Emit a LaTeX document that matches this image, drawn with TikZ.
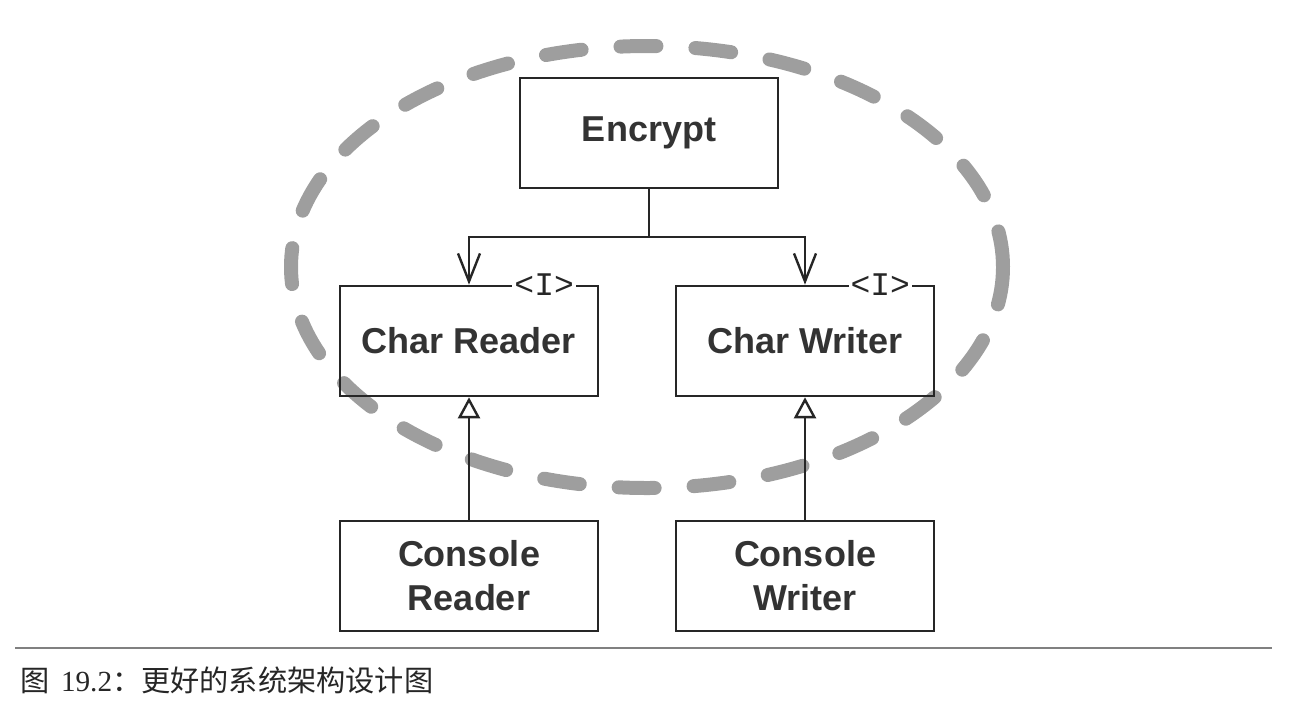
\documentclass[tikz,border=0pt]{standalone}
\usepackage{fontspec}
\usepackage{tikz}
\setmainfont{Liberation Sans}
\newfontfamily\cjkfont{Noto Sans CJK SC}
\newfontfamily\capnumfont{Liberation Serif}
\newfontfamily\ifacefont{Liberation Mono}
\newcommand{\defaultboxwidth}{129pt}
\newcommand{\boxwidth}{\defaultboxwidth}
\newcommand{\boxheight}{55pt}
\usetikzlibrary{arrows.meta}
\colorlet{inkcolor}{black!85}
\tikzstyle{classbox}=[draw=inkcolor, text=black!80, line width=1.3pt, inner sep=0, minimum width=\boxwidth,
                      minimum height=\boxheight, align=center, font=\fontsize{18}{22}\selectfont\bfseries]
\tikzstyle{iface}=[fill=white, text=inkcolor, inner sep=1pt, font=\fontsize{16.5}{16}\selectfont\ifacefont]
\tikzstyle{uses}=[draw=inkcolor, line width=1.2pt, -{Straight Barb[length=14pt, width=11pt]}]
\tikzstyle{implements}=[draw=inkcolor, line width=1.2pt, -{Triangle[fill=white, length=10.5pt, width=11pt]}]
\tikzstyle{boundary}=[draw=black!38, line width=7pt, line cap=round, dash pattern=on 18pt off 19.5pt]
\tikzstyle{captionrule}=[draw=black!50, line width=0.8pt]
\begin{document}
\begin{tikzpicture}[x=0.5pt, y=-0.5pt]
    \useasboundingbox (0,0) rectangle (1294,724);
    % dashed boundary round the core
    \draw[boundary] (647,267) ellipse [x radius=178pt, y radius=110.5pt];
    \node[classbox] (encrypt) at (649,133) {Encrypt};
    \node[classbox] (reader) at (469,341) {Char Reader};
    \node[classbox] (writer) at (805,341) {Char Writer};
    \node[classbox] (creader) at (469,576) {Console\\Reader};
    \node[classbox] (cwriter) at (805,576) {Console\\Writer};
    \node[iface, anchor=east] (readeri) at ([xshift=-11.5pt]reader.north east) {<I>};
    \node[iface, anchor=east] (writeri) at ([xshift=-11.5pt]writer.north east) {<I>};
    \coordinate (split) at (649,237);
    \draw[draw=inkcolor, line width=1.2pt] (encrypt.south) -- (split);
    \draw[uses] (split) -| (reader.north);
    \draw[uses] (split) -| (writer.north);
    \draw[implements] (creader.north) -- (reader.south);
    \draw[implements] (cwriter.north) -- (writer.south);
    % caption
    \coordinate (ruleL) at (15,648);
    \coordinate (ruleR) at (1272,648);
    \draw[captionrule] (ruleL) -- (ruleR);
    \node[anchor=west, inner sep=0, text=black!85, font=\fontsize{14.6}{14.6}\selectfont] (caption) at (20,680)
        {\cjkfont 图\, {\capnumfont 19.2}：更好的系统架构设计图};
\end{tikzpicture}
\end{document}
